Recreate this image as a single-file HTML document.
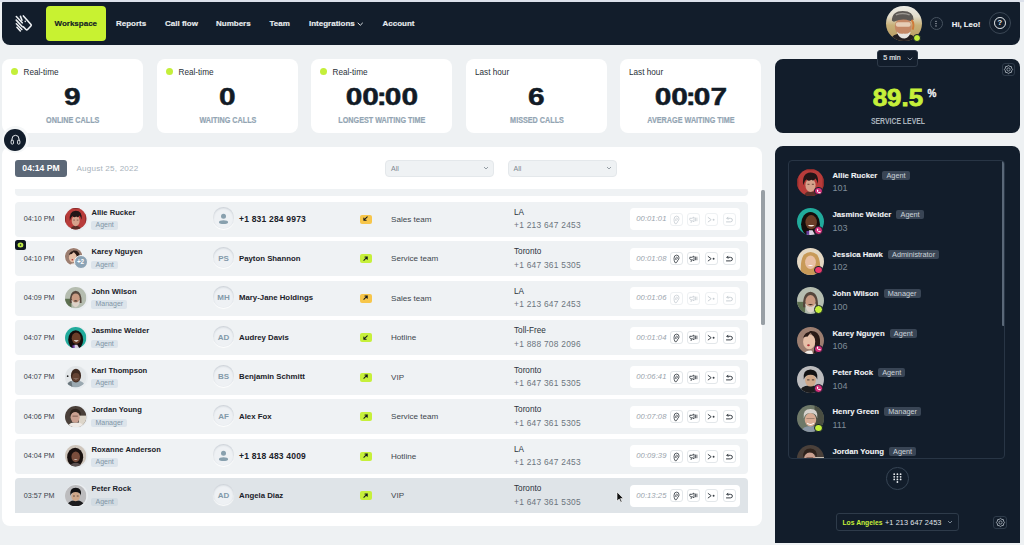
<!DOCTYPE html><html><head><meta charset="utf-8"><style>
*{box-sizing:border-box;margin:0;padding:0}
html,body{width:1024px;height:545px;overflow:hidden;background:#eef1f3;font-family:"Liberation Sans",sans-serif;position:relative}
.a{position:absolute}
.nav{color:#e8ecef;font-weight:bold;font-size:8px;top:19.3px;line-height:10px;white-space:nowrap;-webkit-text-stroke:.15px currentColor}
.card{position:absolute;top:59px;height:74px;background:#fff;border-radius:8px}
.card .lbl{position:absolute;font-size:8.2px;color:#2a3138;line-height:10px}
.dot{position:absolute;width:7px;height:7px;border-radius:50%;background:#c4ef3a}
.big{position:absolute;left:0;right:0;top:83px;text-align:center;font-weight:bold;font-size:23px;line-height:26px;color:#121b26;}
.big span{display:inline-block;transform:scaleX(1.3);-webkit-text-stroke:0.45px #121b26}
.big i{font-style:normal;display:inline-block;margin:0 -1.6px}
.cap{position:absolute;left:0;right:0;top:115px;text-align:center;font-weight:bold;font-size:8.6px;line-height:10px;color:#93a5b3;}
.cap span{display:inline-block;transform:scaleX(0.84);-webkit-text-stroke:.2px #93a5b3}
.row{position:absolute;left:15px;width:733px;height:35px;background:#eff2f4;border-radius:4px}
.t{position:absolute;font-size:7.8px;color:#3a424a;line-height:10px;white-space:nowrap}
.nm{position:absolute;font-weight:bold;font-size:7.6px;color:#1a2128;line-height:10px;white-space:nowrap}
.role{position:absolute;height:8.6px;background:#dce4eb;color:#8196a6;font-size:7px;line-height:8.6px;padding:0 4.2px;border-radius:2px;white-space:nowrap}
.cc{position:absolute;width:21.5px;height:21.5px;border-radius:50%;background:#eef1f4;box-shadow:inset 0 1px 2px rgba(40,60,80,.2), 0 1px 1px rgba(255,255,255,.9);color:#8299a9;font-size:8px;font-weight:bold;text-align:center;line-height:21.5px}
.acts{position:absolute;width:110px;height:22px;background:#fff;border-radius:4px}
.btn{position:absolute;top:4.5px;width:13px;height:13px;border:1px solid #e6eaed;border-radius:3px}
.dir{position:absolute;width:11.8px;height:9px;border-radius:2px;display:flex;align-items:center;justify-content:center}
.sname{position:absolute;font-weight:bold;font-size:7.75px;color:#f2f4f6;line-height:10px;white-space:nowrap;display:flex;align-items:center;-webkit-text-stroke:.1px #f2f4f6}
.srole{display:inline-block;position:relative;top:-.5px;margin-left:5px;height:9px;background:#394555;color:#ccd3d9;font-size:7.3px;line-height:9px;padding:0 4.2px;border-radius:2px;white-space:nowrap;font-weight:normal;-webkit-text-stroke:0}
.sext{position:absolute;font-size:9px;color:#7f8b97;line-height:10px}
</style></head><body>

<div class="a" style="left:0;top:0;width:1024px;height:1.6px;background:#dce1eb"></div>
<div class="a" style="left:2px;top:2px;width:1018px;height:43.2px;background:#121d2b;border-radius:1px 1px 8px 8px"></div>
<svg class="a" style="left:8px;top:8px" width="32" height="32" viewBox="0 0 545 545"><g stroke="#eef1f4" stroke-width="27" fill="none" stroke-linecap="round" stroke-linejoin="round">
<path d="M142 145 L242 252"/><path d="M140 207 L245 318"/><path d="M142 268 L236 366"/><path d="M152 328 L210 392"/><path d="M212 142 L238 208"/>
<path d="M262 135 L392 280 Q402 293 390 306 L334 365 Q320 378 306 366 L262 322"/></g><circle cx="294" cy="228" r="13" fill="#e6eaee"/></svg>
<div class="a" style="left:46px;top:6px;width:60px;height:35px;background:#c8f231;border-radius:4px"></div>
<div class="nav a" style="left:54.5px;color:#131c24">Workspace</div>
<div class="nav a" style="left:116px">Reports</div>
<div class="nav a" style="left:165px">Call flow</div>
<div class="nav a" style="left:216px">Numbers</div>
<div class="nav a" style="left:269.5px">Team</div>
<div class="nav a" style="left:309px">Integrations</div>
<div class="nav a" style="left:382.5px">Account</div>
<svg class="a" style="left:357.3px;top:21.6px" width="6.5" height="4.5" viewBox="0 0 6.5 4.5"><path d="M1 1.1 L3.25 3.3 L5.5 1.1" stroke="#e0e5e9" stroke-width="1" fill="none" stroke-linecap="round"/></svg>
<div class="a" style="left:886px;top:5.6px;width:35.5px;height:35.5px;border-radius:50%;overflow:hidden;background:linear-gradient(180deg,#ecebe6 0%,#e2dccb 30%,#c8b078 55%,#b89a60 100%)"><svg width="35.5" height="35.5" viewBox="0 0 36 36"><path d="M4 36 Q6 27 18 28 Q29 28 31 36Z" fill="#241f22"/><ellipse cx="17.5" cy="21" rx="8.5" ry="9.5" fill="#c48866"/><path d="M11 26 Q13 33 19 33 Q24 32 25 26 Q21 29 18 28 Q14 29 11 26Z" fill="#e8e4e0"/><rect x="10" y="16.5" width="15" height="4.5" rx="2" fill="#e6cdb6"/><path d="M6 15 Q6 5 17 5 Q28 5 28 14 Q26 16 24 15 Q17 12 8 16Z" fill="#5c5854"/><path d="M10 9 Q17 6 24 9" stroke="#9a9690" stroke-width="1.5" fill="none"/><path d="M26 14 Q29 18 27 24" stroke="#d07a3a" stroke-width="2" fill="none"/></svg></div>
<div class="a" style="left:912.5px;top:33.5px;width:8.5px;height:8.5px;border-radius:50%;background:#c4ef3a;border:1px solid #121d2b"></div>
<div class="a" style="left:929.8px;top:17.1px;width:13.2px;height:13.2px;border-radius:50%;border:1px solid #46525f"></div>
<svg class="a" style="left:935.4px;top:20px" width="2" height="7.5"><circle cx="1" cy="1.3" r=".65" fill="#c8ced4"/><circle cx="1" cy="3.6" r=".65" fill="#c8ced4"/><circle cx="1" cy="5.9" r=".65" fill="#c8ced4"/></svg>
<div class="nav a" style="left:951.8px;top:19.5px;color:#f0f2f4;font-size:7.75px">Hi, Leo!</div>
<div class="a" style="left:988.9px;top:12.1px;width:22px;height:22px;border-radius:50%;border:1.2px solid #3a4654"></div>
<div class="a" style="left:994px;top:17.2px;width:11.8px;height:11.8px;border-radius:50%;border:1.1px solid #e8ecef;color:#e8ecef;font-size:7.6px;font-weight:bold;line-height:9.8px;text-align:center">?</div>
<div class="card" style="left:2px;width:141px">
<div class="dot" style="left:9.4px;top:9.2px"></div><div class="lbl" style="left:21.5px;top:8.8px">Real-time</div>
<div class="big" style="top:25.3px"><span>9</span></div><div class="cap" style="top:55.7px"><span>ONLINE CALLS</span></div></div>
<div class="card" style="left:157px;width:141px">
<div class="dot" style="left:9.4px;top:9.2px"></div><div class="lbl" style="left:21.5px;top:8.8px">Real-time</div>
<div class="big" style="top:25.3px"><span>0</span></div><div class="cap" style="top:55.7px"><span>WAITING CALLS</span></div></div>
<div class="card" style="left:311px;width:141px">
<div class="dot" style="left:9.4px;top:9.2px"></div><div class="lbl" style="left:21.5px;top:8.8px">Real-time</div>
<div class="big" style="top:25.3px"><span>00<i>:</i>00</span></div><div class="cap" style="top:55.7px"><span>LONGEST WAITING TIME</span></div></div>
<div class="card" style="left:466px;width:141px">
<div class="lbl" style="left:9px;top:8.8px">Last hour</div>
<div class="big" style="top:25.3px"><span>6</span></div><div class="cap" style="top:55.7px"><span>MISSED CALLS</span></div></div>
<div class="card" style="left:620px;width:141px">
<div class="lbl" style="left:9px;top:8.8px">Last hour</div>
<div class="big" style="top:25.3px"><span>00<i>:</i>07</span></div><div class="cap" style="top:55.7px"><span>AVERAGE WAITING TIME</span></div></div>
<div class="a" style="left:775px;top:59px;width:245px;height:74px;background:#121d2b;border-radius:8px"></div>
<div class="a" style="left:876.9px;top:50.3px;width:41px;height:16.6px;background:#121d2b;border:1px solid #2d3948;border-radius:3px"></div>
<div class="a" style="left:883.3px;top:54.2px;font-size:7.1px;color:#e4e8ec;line-height:9px;-webkit-text-stroke:.15px #e4e8ec">5 min</div>
<svg class="a" style="left:906.5px;top:57px" width="6" height="4" viewBox="0 0 6 4"><path d="M1 1 L3 3 L5 1" stroke="#8793a0" stroke-width=".9" fill="none" stroke-linecap="round"/></svg>
<div class="a" style="left:1002px;top:63px;width:13px;height:13px;border:1px solid #2d3948;border-radius:3px"></div>
<svg class="a" style="left:1002.1px;top:63.2px" width="13" height="13" viewBox="0 0 13 13"><path d="M10.60 6.50 L9.64 7.80 L9.40 9.40 L7.80 9.64 L6.50 10.60 L5.20 9.64 L3.60 9.40 L3.36 7.80 L2.40 6.50 L3.36 5.20 L3.60 3.60 L5.20 3.36 L6.50 2.40 L7.80 3.36 L9.40 3.60 L9.64 5.20Z" stroke="#aab3bc" stroke-width=".9" fill="none" stroke-linejoin="round"/><circle cx="6.5" cy="6.5" r="1.6" stroke="#aab3bc" stroke-width=".8" fill="none"/></svg>
<div class="a" style="left:860px;top:84px;width:75px;text-align:center;font-weight:bold;font-size:23.5px;line-height:28px;color:#c6f03a"><span style="display:inline-block;transform:scaleX(1.1);-webkit-text-stroke:0.8px #c6f03a">89.5</span></div>
<div class="a" style="left:927.5px;top:87.5px;font-weight:bold;font-size:10px;line-height:12px;color:#f0f2f4;-webkit-text-stroke:.3px #f0f2f4">%</div>
<div class="a" style="left:860px;top:115.5px;width:75px;text-align:center;font-weight:bold;font-size:8.4px;line-height:10px;color:#aab4be"><span style="display:inline-block;transform:scaleX(0.82)">SERVICE LEVEL</span></div>
<div class="a" style="left:1.7px;top:146.6px;width:760.3px;height:379.6px;background:#fff;border-radius:8px"></div>
<div class="a" style="left:15px;top:160px;width:52px;height:17px;background:#5c6877;border-radius:3px;color:#fff;font-weight:bold;font-size:8.6px;line-height:17px;text-align:center">04:14 PM</div>
<div class="a" style="left:76.5px;top:164px;font-size:8.1px;color:#a8b2bb;line-height:10px;letter-spacing:.2px">August 25, 2022</div>
<div class="a" style="left:385px;top:160px;width:109px;height:17px;background:#eff2f4;border:1px solid #e4e8eb;border-radius:4px"></div>
<div class="a" style="left:391px;top:164px;font-size:7px;color:#7d8790;line-height:9px">All</div>
<svg class="a" style="left:483px;top:166px" width="6" height="4" viewBox="0 0 6 4"><path d="M1 1 L3 3 L5 1" stroke="#8a949c" stroke-width=".9" fill="none"/></svg>
<div class="a" style="left:507.5px;top:160px;width:109px;height:17px;background:#eff2f4;border:1px solid #e4e8eb;border-radius:4px"></div>
<div class="a" style="left:513.5px;top:164px;font-size:7px;color:#7d8790;line-height:9px">All</div>
<svg class="a" style="left:605.5px;top:166px" width="6" height="4" viewBox="0 0 6 4"><path d="M1 1 L3 3 L5 1" stroke="#8a949c" stroke-width=".9" fill="none"/></svg>
<div class="a" style="left:761.3px;top:190.3px;width:3.7px;height:135px;background:#989fa5;border-radius:1.5px"></div>
<div class="a" style="left:15px;top:189px;width:733px;height:7px;background:#eff2f4;border-radius:0 0 4px 4px"></div>
<div class="row" style="top:201.5px;background:#eff2f4;border-radius:4px"></div>
<div class="t" style="left:23.7px;top:214.0px;font-size:7.2px">04:10 PM</div>
<div class="a" style="left:64.5px;top:207.5px;width:23px;height:23px;border-radius:50%;background:#e9edf0;padding:0.8px"><svg width="21.4" height="21.4" viewBox="0 0 40 40" style="display:block"><defs><clipPath id="cr0"><circle cx="20" cy="20" r="20"/></clipPath></defs><g clip-path="url(#cr0)"><rect width="40" height="40" fill="#b83c3a"/><path d="M0 0 H40 V40 H0Z" fill="none" stroke="#8a2a2a" stroke-width="4"/><path d="M10 40 Q12 33 20 33 Q28 33 30 40Z" fill="#5a2e28"/><ellipse cx="20" cy="24" rx="7.5" ry="10" fill="#d6a28c"/><path d="M9 24 Q7 6 20 5 Q33 5 31 22 Q29 15 27 14 Q25 19 21 16 Q17 19 14 15 Q11 17 9 24Z" fill="#231617"/><rect x="15.5" y="22" width="3" height="1.1" fill="#4a2a22"/><rect x="22" y="22" width="3" height="1.1" fill="#4a2a22"/></g></svg></div>
<div class="nm" style="left:91.5px;top:207.5px">Allie Rucker</div>
<div class="role" style="left:91.3px;top:221.0px;">Agent</div>
<div class="cc" style="left:212.8px;top:207.0px;display:flex;align-items:center;justify-content:center"><svg width="11" height="11" viewBox="0 0 11 11" style="display:block;margin-top:1.6px"><circle cx="5.5" cy="3.3" r="2.5" fill="#88a0ae"/><ellipse cx="5.5" cy="9.2" rx="4.5" ry="1.9" fill="#88a0ae"/></svg></div>
<div class="nm" style="left:239px;top:214.0px;font-size:8.5px;letter-spacing:0.2px">+1 831 284 9973</div>
<div class="dir" style="left:360px;top:214.5px;background:#f7c64a"><svg width="11" height="10" viewBox="0 0 12 11" style="display:block"><path d="M7.9 3.1 L4.2 6.8 M4.2 4.3 V6.8 H6.7" stroke="#161a1e" stroke-width="1.15" fill="none" stroke-linecap="round" stroke-linejoin="round"/></svg></div>
<div class="t" style="left:391px;top:214.5px;color:#3e464e;font-size:8.1px">Sales team</div>
<div class="t" style="left:514px;top:207.5px;color:#2c343c;font-size:8.2px">LA</div>
<div class="t" style="left:514px;top:220.0px;color:#6c757e;font-size:8.4px;letter-spacing:.25px">+1 213 647 2453</div>
<div class="acts" style="left:629.8px;top:208.0px">
<div class="t" style="left:6.5px;top:6px;font-style:italic;color:#9aa4ac;font-size:7.65px;letter-spacing:.05px">00:01:01</div>
<div class="btn" style="left:40.0px;border-color:#eef1f3"><svg class="a" style="left:-1px;top:-1px" width="13" height="13" viewBox="0 0 13 13"><path d="M4.9 10.4 Q4 8.8 4 6.4 Q4 3.1 6.6 3.1 Q9 3.1 9 5.8 Q9 7.2 8.1 8 Q7.2 8.8 7 10 Q6.6 11 5.6 10.8" stroke="#c9cfd4" stroke-width=".85" fill="none" stroke-linecap="round"/><path d="M5.6 7.5 Q5.4 5.1 6.7 5.1 Q7.6 5.1 7.4 6.3 Q7.3 7 6.7 7.3" stroke="#c9cfd4" stroke-width=".75" fill="none" stroke-linecap="round"/></svg></div>
<div class="btn" style="left:57.6px;border-color:#eef1f3"><svg class="a" style="left:-1px;top:-1px" width="13" height="13" viewBox="0 0 13 13"><path d="M3 5.3 H5 L7 4 V8.8 L5 7.6 H4.5 L4.1 9.6 M3.4 7.6 Q2.7 7.5 2.7 6.5 Q2.7 5.3 3 5.3" stroke="#c9cfd4" stroke-width=".85" fill="none" stroke-linejoin="round" stroke-linecap="round"/><path d="M8.5 4.6 V8.2 M9.9 4.6 V8.2" stroke="#c9cfd4" stroke-width=".8"/></svg></div>
<div class="btn" style="left:75.2px;border-color:#eef1f3"><svg class="a" style="left:-1px;top:-1px" width="13" height="13" viewBox="0 0 13 13"><path d="M3.2 4.5 L6.2 6.7 L3.2 8.9" stroke="#c9cfd4" stroke-width=".95" fill="none" stroke-linecap="round" stroke-linejoin="round"/><circle cx="8.6" cy="6.7" r=".95" fill="#c9cfd4"/></svg></div>
<div class="btn" style="left:92.80000000000001px;border-color:#eef1f3"><svg class="a" style="left:-1px;top:-1px" width="13" height="13" viewBox="0 0 13 13"><path d="M5 4.2 L3.9 5.3 L5 6.4 M4 5.3 H7.4 Q9.4 5.3 9.4 7.1 Q9.4 8.9 7.4 8.9 H3.5" stroke="#c9cfd4" stroke-width="1" fill="none" stroke-linecap="round" stroke-linejoin="round"/></svg></div>
</div>
<div class="row" style="top:241.0px;background:#eff2f4;border-radius:4px"></div>
<div class="t" style="left:23.7px;top:253.5px;font-size:7.2px">04:10 PM</div>
<div class="a" style="left:64.4px;top:247.2px;width:18.8px;height:18.8px;border-radius:50%;background:#f4f6f8;padding:0.7px"><svg width="17.4" height="17.4" viewBox="0 0 40 40" style="display:block"><defs><clipPath id="cr1"><circle cx="20" cy="20" r="20"/></clipPath></defs><g clip-path="url(#cr1)"><rect width="40" height="40" fill="#9c7e70"/><path d="M18 6 Q32 4 34 18 Q35 30 30 40 L24 40 Q28 26 26 16Z" fill="#2a1a16"/><ellipse cx="18" cy="22" rx="9" ry="11" fill="#e6c0a8"/><path d="M9 16 Q12 6 22 7 Q18 10 16 14 Q12 14 9 16Z" fill="#2a1a16"/><ellipse cx="17" cy="27" rx="2" ry="1.5" fill="#b03038"/><path d="M10 40 Q14 34 22 35 L24 40Z" fill="#f0ebe6"/></g></svg></div>
<div class="a" style="left:73.5px;top:255.2px;width:14px;height:14px;border-radius:50%;background:#8ba3b5;border:1px solid #f2f5f7;color:#fff;font-size:6.3px;font-weight:bold;line-height:12px;text-align:center">+2</div>
<div class="nm" style="left:91.5px;top:247.0px">Karey Nguyen</div>
<div class="role" style="left:91.3px;top:260.5px;">Agent</div>
<div class="cc" style="left:212.8px;top:246.5px;line-height:23px">PS</div>
<div class="nm" style="left:239px;top:253.5px;font-size:7.8px;letter-spacing:0px">Payton Shannon</div>
<div class="dir" style="left:360px;top:254.0px;background:#c6f03a"><svg width="11" height="10" viewBox="0 0 12 11" style="display:block"><path d="M4.2 6.9 L7.9 3.2 M5.4 3.2 H7.9 V5.7" stroke="#161a1e" stroke-width="1.15" fill="none" stroke-linecap="round" stroke-linejoin="round"/></svg></div>
<div class="t" style="left:391px;top:254.0px;color:#3e464e;font-size:8.1px">Service team</div>
<div class="t" style="left:514px;top:247.0px;color:#2c343c;font-size:8.2px">Toronto</div>
<div class="t" style="left:514px;top:259.5px;color:#6c757e;font-size:8.4px;letter-spacing:.25px">+1 647 361 5305</div>
<div class="acts" style="left:629.8px;top:247.5px">
<div class="t" style="left:6.5px;top:6px;font-style:italic;color:#9aa4ac;font-size:7.65px;letter-spacing:.05px">00:01:08</div>
<div class="btn" style="left:40.0px;border-color:#e3e7ea"><svg class="a" style="left:-1px;top:-1px" width="13" height="13" viewBox="0 0 13 13"><path d="M4.9 10.4 Q4 8.8 4 6.4 Q4 3.1 6.6 3.1 Q9 3.1 9 5.8 Q9 7.2 8.1 8 Q7.2 8.8 7 10 Q6.6 11 5.6 10.8" stroke="#383f46" stroke-width=".85" fill="none" stroke-linecap="round"/><path d="M5.6 7.5 Q5.4 5.1 6.7 5.1 Q7.6 5.1 7.4 6.3 Q7.3 7 6.7 7.3" stroke="#383f46" stroke-width=".75" fill="none" stroke-linecap="round"/></svg></div>
<div class="btn" style="left:57.6px;border-color:#e3e7ea"><svg class="a" style="left:-1px;top:-1px" width="13" height="13" viewBox="0 0 13 13"><path d="M3 5.3 H5 L7 4 V8.8 L5 7.6 H4.5 L4.1 9.6 M3.4 7.6 Q2.7 7.5 2.7 6.5 Q2.7 5.3 3 5.3" stroke="#383f46" stroke-width=".85" fill="none" stroke-linejoin="round" stroke-linecap="round"/><path d="M8.5 4.6 V8.2 M9.9 4.6 V8.2" stroke="#383f46" stroke-width=".8"/></svg></div>
<div class="btn" style="left:75.2px;border-color:#e3e7ea"><svg class="a" style="left:-1px;top:-1px" width="13" height="13" viewBox="0 0 13 13"><path d="M3.2 4.5 L6.2 6.7 L3.2 8.9" stroke="#383f46" stroke-width=".95" fill="none" stroke-linecap="round" stroke-linejoin="round"/><circle cx="8.6" cy="6.7" r=".95" fill="#383f46"/></svg></div>
<div class="btn" style="left:92.80000000000001px;border-color:#e3e7ea"><svg class="a" style="left:-1px;top:-1px" width="13" height="13" viewBox="0 0 13 13"><path d="M5 4.2 L3.9 5.3 L5 6.4 M4 5.3 H7.4 Q9.4 5.3 9.4 7.1 Q9.4 8.9 7.4 8.9 H3.5" stroke="#383f46" stroke-width="1" fill="none" stroke-linecap="round" stroke-linejoin="round"/></svg></div>
</div>
<div class="row" style="top:280.5px;background:#eff2f4;border-radius:4px"></div>
<div class="t" style="left:23.7px;top:293.0px;font-size:7.2px">04:09 PM</div>
<div class="a" style="left:64.5px;top:286.5px;width:23px;height:23px;border-radius:50%;background:#e9edf0;padding:0.8px"><svg width="21.4" height="21.4" viewBox="0 0 40 40" style="display:block"><defs><clipPath id="cr2"><circle cx="20" cy="20" r="20"/></clipPath></defs><g clip-path="url(#cr2)"><rect width="40" height="40" fill="#b5bdb0"/><rect y="22" width="12" height="18" fill="#5d7050"/><path d="M9 30 Q8 8 20 7 Q32 8 31 30 L27 30 Q28 14 20 13 Q12 14 13 30Z" fill="#54463c"/><ellipse cx="20" cy="21" rx="7.5" ry="9" fill="#c89a82"/><path d="M12 24 Q13 37 20 38 Q27 37 28 24 Q24 30 20 29 Q16 30 12 24Z" fill="#dcd2c8"/><path d="M16 26 Q20 24 24 26 Q20 28 16 26Z" fill="#3a2a24"/></g></svg></div>
<div class="nm" style="left:91.5px;top:286.5px">John Wilson</div>
<div class="role" style="left:91.3px;top:300.0px;">Manager</div>
<div class="cc" style="left:212.8px;top:286.0px;line-height:23px">MH</div>
<div class="nm" style="left:239px;top:293.0px;font-size:7.8px;letter-spacing:0px">Mary-Jane Holdings</div>
<div class="dir" style="left:360px;top:293.5px;background:#f7c64a"><svg width="11" height="10" viewBox="0 0 12 11" style="display:block"><path d="M4.2 6.9 L7.9 3.2 M5.4 3.2 H7.9 V5.7" stroke="#161a1e" stroke-width="1.15" fill="none" stroke-linecap="round" stroke-linejoin="round"/></svg></div>
<div class="t" style="left:391px;top:293.5px;color:#3e464e;font-size:8.1px">Sales team</div>
<div class="t" style="left:514px;top:286.5px;color:#2c343c;font-size:8.2px">LA</div>
<div class="t" style="left:514px;top:299.0px;color:#6c757e;font-size:8.4px;letter-spacing:.25px">+1 213 647 2453</div>
<div class="acts" style="left:629.8px;top:287.0px">
<div class="t" style="left:6.5px;top:6px;font-style:italic;color:#9aa4ac;font-size:7.65px;letter-spacing:.05px">00:01:06</div>
<div class="btn" style="left:40.0px;border-color:#eef1f3"><svg class="a" style="left:-1px;top:-1px" width="13" height="13" viewBox="0 0 13 13"><path d="M4.9 10.4 Q4 8.8 4 6.4 Q4 3.1 6.6 3.1 Q9 3.1 9 5.8 Q9 7.2 8.1 8 Q7.2 8.8 7 10 Q6.6 11 5.6 10.8" stroke="#c9cfd4" stroke-width=".85" fill="none" stroke-linecap="round"/><path d="M5.6 7.5 Q5.4 5.1 6.7 5.1 Q7.6 5.1 7.4 6.3 Q7.3 7 6.7 7.3" stroke="#c9cfd4" stroke-width=".75" fill="none" stroke-linecap="round"/></svg></div>
<div class="btn" style="left:57.6px;border-color:#eef1f3"><svg class="a" style="left:-1px;top:-1px" width="13" height="13" viewBox="0 0 13 13"><path d="M3 5.3 H5 L7 4 V8.8 L5 7.6 H4.5 L4.1 9.6 M3.4 7.6 Q2.7 7.5 2.7 6.5 Q2.7 5.3 3 5.3" stroke="#c9cfd4" stroke-width=".85" fill="none" stroke-linejoin="round" stroke-linecap="round"/><path d="M8.5 4.6 V8.2 M9.9 4.6 V8.2" stroke="#c9cfd4" stroke-width=".8"/></svg></div>
<div class="btn" style="left:75.2px;border-color:#eef1f3"><svg class="a" style="left:-1px;top:-1px" width="13" height="13" viewBox="0 0 13 13"><path d="M3.2 4.5 L6.2 6.7 L3.2 8.9" stroke="#c9cfd4" stroke-width=".95" fill="none" stroke-linecap="round" stroke-linejoin="round"/><circle cx="8.6" cy="6.7" r=".95" fill="#c9cfd4"/></svg></div>
<div class="btn" style="left:92.80000000000001px;border-color:#eef1f3"><svg class="a" style="left:-1px;top:-1px" width="13" height="13" viewBox="0 0 13 13"><path d="M5 4.2 L3.9 5.3 L5 6.4 M4 5.3 H7.4 Q9.4 5.3 9.4 7.1 Q9.4 8.9 7.4 8.9 H3.5" stroke="#c9cfd4" stroke-width="1" fill="none" stroke-linecap="round" stroke-linejoin="round"/></svg></div>
</div>
<div class="row" style="top:320.0px;background:#eff2f4;border-radius:4px"></div>
<div class="t" style="left:23.7px;top:332.5px;font-size:7.2px">04:07 PM</div>
<div class="a" style="left:64.5px;top:326.0px;width:23px;height:23px;border-radius:50%;background:#e9edf0;padding:0.8px"><svg width="21.4" height="21.4" viewBox="0 0 40 40" style="display:block"><defs><clipPath id="cr3"><circle cx="20" cy="20" r="20"/></clipPath></defs><g clip-path="url(#cr3)"><rect width="40" height="40" fill="#21ab9c"/><ellipse cx="20" cy="24" rx="14" ry="18" fill="#140d0c"/><ellipse cx="21" cy="21" rx="8.5" ry="10.5" fill="#6a3e28"/><path d="M16 25 Q21 30 26 25Z" fill="#f2eee8"/><path d="M14 40 L18 33 L23 33 L27 40Z" fill="#d8d0e0"/><rect x="14" y="34" width="4" height="6" fill="#6a3ca0"/></g></svg></div>
<div class="nm" style="left:91.5px;top:326.0px">Jasmine Welder</div>
<div class="role" style="left:91.3px;top:339.5px;">Agent</div>
<div class="cc" style="left:212.8px;top:325.5px;line-height:23px">AD</div>
<div class="nm" style="left:239px;top:332.5px;font-size:7.8px;letter-spacing:0px">Audrey Davis</div>
<div class="dir" style="left:360px;top:333.0px;background:#c6f03a"><svg width="11" height="10" viewBox="0 0 12 11" style="display:block"><path d="M7.9 3.1 L4.2 6.8 M4.2 4.3 V6.8 H6.7" stroke="#161a1e" stroke-width="1.15" fill="none" stroke-linecap="round" stroke-linejoin="round"/></svg></div>
<div class="t" style="left:391px;top:333.0px;color:#3e464e;font-size:8.1px">Hotline</div>
<div class="t" style="left:514px;top:326.0px;color:#2c343c;font-size:8.2px">Toll-Free</div>
<div class="t" style="left:514px;top:338.5px;color:#6c757e;font-size:8.4px;letter-spacing:.25px">+1 888 708 2096</div>
<div class="acts" style="left:629.8px;top:326.5px">
<div class="t" style="left:6.5px;top:6px;font-style:italic;color:#9aa4ac;font-size:7.65px;letter-spacing:.05px">00:01:04</div>
<div class="btn" style="left:40.0px;border-color:#e3e7ea"><svg class="a" style="left:-1px;top:-1px" width="13" height="13" viewBox="0 0 13 13"><path d="M4.9 10.4 Q4 8.8 4 6.4 Q4 3.1 6.6 3.1 Q9 3.1 9 5.8 Q9 7.2 8.1 8 Q7.2 8.8 7 10 Q6.6 11 5.6 10.8" stroke="#383f46" stroke-width=".85" fill="none" stroke-linecap="round"/><path d="M5.6 7.5 Q5.4 5.1 6.7 5.1 Q7.6 5.1 7.4 6.3 Q7.3 7 6.7 7.3" stroke="#383f46" stroke-width=".75" fill="none" stroke-linecap="round"/></svg></div>
<div class="btn" style="left:57.6px;border-color:#e3e7ea"><svg class="a" style="left:-1px;top:-1px" width="13" height="13" viewBox="0 0 13 13"><path d="M3 5.3 H5 L7 4 V8.8 L5 7.6 H4.5 L4.1 9.6 M3.4 7.6 Q2.7 7.5 2.7 6.5 Q2.7 5.3 3 5.3" stroke="#383f46" stroke-width=".85" fill="none" stroke-linejoin="round" stroke-linecap="round"/><path d="M8.5 4.6 V8.2 M9.9 4.6 V8.2" stroke="#383f46" stroke-width=".8"/></svg></div>
<div class="btn" style="left:75.2px;border-color:#e3e7ea"><svg class="a" style="left:-1px;top:-1px" width="13" height="13" viewBox="0 0 13 13"><path d="M3.2 4.5 L6.2 6.7 L3.2 8.9" stroke="#383f46" stroke-width=".95" fill="none" stroke-linecap="round" stroke-linejoin="round"/><circle cx="8.6" cy="6.7" r=".95" fill="#383f46"/></svg></div>
<div class="btn" style="left:92.80000000000001px;border-color:#e3e7ea"><svg class="a" style="left:-1px;top:-1px" width="13" height="13" viewBox="0 0 13 13"><path d="M5 4.2 L3.9 5.3 L5 6.4 M4 5.3 H7.4 Q9.4 5.3 9.4 7.1 Q9.4 8.9 7.4 8.9 H3.5" stroke="#383f46" stroke-width="1" fill="none" stroke-linecap="round" stroke-linejoin="round"/></svg></div>
</div>
<div class="row" style="top:359.5px;background:#eff2f4;border-radius:4px"></div>
<div class="t" style="left:23.7px;top:372.0px;font-size:7.2px">04:07 PM</div>
<div class="a" style="left:64.5px;top:365.5px;width:23px;height:23px;border-radius:50%;background:#e9edf0;padding:0.8px"><svg width="21.4" height="21.4" viewBox="0 0 40 40" style="display:block"><defs><clipPath id="cr4"><circle cx="20" cy="20" r="20"/></clipPath></defs><g clip-path="url(#cr4)"><rect width="40" height="40" fill="#e2e6e8"/><path d="M2 40 Q4 26 20 28 Q36 26 38 40Z" fill="#9aa8b0"/><path d="M2 40 Q4 30 12 28 L14 40Z" fill="#6a767c"/><ellipse cx="20.5" cy="18" rx="9.5" ry="13" fill="#3e2a20"/><ellipse cx="20.5" cy="21" rx="7" ry="8" fill="#654434"/><path d="M15 23 Q20.5 27 26 23 Q20.5 25 15 23Z" fill="#e8e0d8"/><circle cx="5" cy="19" r="1.6" fill="#222"/></g></svg></div>
<div class="nm" style="left:91.5px;top:365.5px">Karl Thompson</div>
<div class="role" style="left:91.3px;top:379.0px;">Agent</div>
<div class="cc" style="left:212.8px;top:365.0px;line-height:23px">BS</div>
<div class="nm" style="left:239px;top:372.0px;font-size:7.8px;letter-spacing:0px">Benjamin Schmitt</div>
<div class="dir" style="left:360px;top:372.5px;background:#c6f03a"><svg width="11" height="10" viewBox="0 0 12 11" style="display:block"><path d="M4.2 6.9 L7.9 3.2 M5.4 3.2 H7.9 V5.7" stroke="#161a1e" stroke-width="1.15" fill="none" stroke-linecap="round" stroke-linejoin="round"/></svg></div>
<div class="t" style="left:391px;top:372.5px;color:#3e464e;font-size:8.1px">VIP</div>
<div class="t" style="left:514px;top:365.5px;color:#2c343c;font-size:8.2px">Toronto</div>
<div class="t" style="left:514px;top:378.0px;color:#6c757e;font-size:8.4px;letter-spacing:.25px">+1 647 361 5305</div>
<div class="acts" style="left:629.8px;top:366.0px">
<div class="t" style="left:6.5px;top:6px;font-style:italic;color:#9aa4ac;font-size:7.65px;letter-spacing:.05px">00:06:41</div>
<div class="btn" style="left:40.0px;border-color:#e3e7ea"><svg class="a" style="left:-1px;top:-1px" width="13" height="13" viewBox="0 0 13 13"><path d="M4.9 10.4 Q4 8.8 4 6.4 Q4 3.1 6.6 3.1 Q9 3.1 9 5.8 Q9 7.2 8.1 8 Q7.2 8.8 7 10 Q6.6 11 5.6 10.8" stroke="#383f46" stroke-width=".85" fill="none" stroke-linecap="round"/><path d="M5.6 7.5 Q5.4 5.1 6.7 5.1 Q7.6 5.1 7.4 6.3 Q7.3 7 6.7 7.3" stroke="#383f46" stroke-width=".75" fill="none" stroke-linecap="round"/></svg></div>
<div class="btn" style="left:57.6px;border-color:#e3e7ea"><svg class="a" style="left:-1px;top:-1px" width="13" height="13" viewBox="0 0 13 13"><path d="M3 5.3 H5 L7 4 V8.8 L5 7.6 H4.5 L4.1 9.6 M3.4 7.6 Q2.7 7.5 2.7 6.5 Q2.7 5.3 3 5.3" stroke="#383f46" stroke-width=".85" fill="none" stroke-linejoin="round" stroke-linecap="round"/><path d="M8.5 4.6 V8.2 M9.9 4.6 V8.2" stroke="#383f46" stroke-width=".8"/></svg></div>
<div class="btn" style="left:75.2px;border-color:#e3e7ea"><svg class="a" style="left:-1px;top:-1px" width="13" height="13" viewBox="0 0 13 13"><path d="M3.2 4.5 L6.2 6.7 L3.2 8.9" stroke="#383f46" stroke-width=".95" fill="none" stroke-linecap="round" stroke-linejoin="round"/><circle cx="8.6" cy="6.7" r=".95" fill="#383f46"/></svg></div>
<div class="btn" style="left:92.80000000000001px;border-color:#e3e7ea"><svg class="a" style="left:-1px;top:-1px" width="13" height="13" viewBox="0 0 13 13"><path d="M5 4.2 L3.9 5.3 L5 6.4 M4 5.3 H7.4 Q9.4 5.3 9.4 7.1 Q9.4 8.9 7.4 8.9 H3.5" stroke="#383f46" stroke-width="1" fill="none" stroke-linecap="round" stroke-linejoin="round"/></svg></div>
</div>
<div class="row" style="top:399.0px;background:#eff2f4;border-radius:4px"></div>
<div class="t" style="left:23.7px;top:411.5px;font-size:7.2px">04:06 PM</div>
<div class="a" style="left:64.5px;top:405.0px;width:23px;height:23px;border-radius:50%;background:#e9edf0;padding:0.8px"><svg width="21.4" height="21.4" viewBox="0 0 40 40" style="display:block"><defs><clipPath id="cr5"><circle cx="20" cy="20" r="20"/></clipPath></defs><g clip-path="url(#cr5)"><rect width="40" height="40" fill="#4a403a"/><rect x="26" y="18" width="14" height="22" fill="#ddd6ca"/><path d="M4 40 Q8 30 20 31 Q32 30 36 40Z" fill="#eeeae6"/><ellipse cx="19" cy="21" rx="8.5" ry="10.5" fill="#caa090"/><path d="M9 19 Q8 5 20 5 Q31 6 29 18 Q26 11 19 11 Q13 11 9 19Z" fill="#2e221c"/><path d="M14 19 H24" stroke="#5a3a30" stroke-width="1.2"/></g></svg></div>
<div class="nm" style="left:91.5px;top:405.0px">Jordan Young</div>
<div class="role" style="left:91.3px;top:418.5px;">Manager</div>
<div class="cc" style="left:212.8px;top:404.5px;line-height:23px">AF</div>
<div class="nm" style="left:239px;top:411.5px;font-size:7.8px;letter-spacing:0px">Alex Fox</div>
<div class="dir" style="left:360px;top:412.0px;background:#c6f03a"><svg width="11" height="10" viewBox="0 0 12 11" style="display:block"><path d="M4.2 6.9 L7.9 3.2 M5.4 3.2 H7.9 V5.7" stroke="#161a1e" stroke-width="1.15" fill="none" stroke-linecap="round" stroke-linejoin="round"/></svg></div>
<div class="t" style="left:391px;top:412.0px;color:#3e464e;font-size:8.1px">Service team</div>
<div class="t" style="left:514px;top:405.0px;color:#2c343c;font-size:8.2px">Toronto</div>
<div class="t" style="left:514px;top:417.5px;color:#6c757e;font-size:8.4px;letter-spacing:.25px">+1 647 361 5305</div>
<div class="acts" style="left:629.8px;top:405.5px">
<div class="t" style="left:6.5px;top:6px;font-style:italic;color:#9aa4ac;font-size:7.65px;letter-spacing:.05px">00:07:08</div>
<div class="btn" style="left:40.0px;border-color:#e3e7ea"><svg class="a" style="left:-1px;top:-1px" width="13" height="13" viewBox="0 0 13 13"><path d="M4.9 10.4 Q4 8.8 4 6.4 Q4 3.1 6.6 3.1 Q9 3.1 9 5.8 Q9 7.2 8.1 8 Q7.2 8.8 7 10 Q6.6 11 5.6 10.8" stroke="#383f46" stroke-width=".85" fill="none" stroke-linecap="round"/><path d="M5.6 7.5 Q5.4 5.1 6.7 5.1 Q7.6 5.1 7.4 6.3 Q7.3 7 6.7 7.3" stroke="#383f46" stroke-width=".75" fill="none" stroke-linecap="round"/></svg></div>
<div class="btn" style="left:57.6px;border-color:#e3e7ea"><svg class="a" style="left:-1px;top:-1px" width="13" height="13" viewBox="0 0 13 13"><path d="M3 5.3 H5 L7 4 V8.8 L5 7.6 H4.5 L4.1 9.6 M3.4 7.6 Q2.7 7.5 2.7 6.5 Q2.7 5.3 3 5.3" stroke="#383f46" stroke-width=".85" fill="none" stroke-linejoin="round" stroke-linecap="round"/><path d="M8.5 4.6 V8.2 M9.9 4.6 V8.2" stroke="#383f46" stroke-width=".8"/></svg></div>
<div class="btn" style="left:75.2px;border-color:#e3e7ea"><svg class="a" style="left:-1px;top:-1px" width="13" height="13" viewBox="0 0 13 13"><path d="M3.2 4.5 L6.2 6.7 L3.2 8.9" stroke="#383f46" stroke-width=".95" fill="none" stroke-linecap="round" stroke-linejoin="round"/><circle cx="8.6" cy="6.7" r=".95" fill="#383f46"/></svg></div>
<div class="btn" style="left:92.80000000000001px;border-color:#e3e7ea"><svg class="a" style="left:-1px;top:-1px" width="13" height="13" viewBox="0 0 13 13"><path d="M5 4.2 L3.9 5.3 L5 6.4 M4 5.3 H7.4 Q9.4 5.3 9.4 7.1 Q9.4 8.9 7.4 8.9 H3.5" stroke="#383f46" stroke-width="1" fill="none" stroke-linecap="round" stroke-linejoin="round"/></svg></div>
</div>
<div class="row" style="top:438.5px;background:#eff2f4;border-radius:4px"></div>
<div class="t" style="left:23.7px;top:451.0px;font-size:7.2px">04:04 PM</div>
<div class="a" style="left:64.5px;top:444.5px;width:23px;height:23px;border-radius:50%;background:#e9edf0;padding:0.8px"><svg width="21.4" height="21.4" viewBox="0 0 40 40" style="display:block"><defs><clipPath id="cr6"><circle cx="20" cy="20" r="20"/></clipPath></defs><g clip-path="url(#cr6)"><rect width="40" height="40" fill="#cfc6bc"/><ellipse cx="19" cy="23" rx="15" ry="18" fill="#1a1210"/><ellipse cx="20" cy="22" rx="8" ry="10" fill="#7a4e3c"/><path d="M16 26 Q20 29 24 26Z" fill="#e8ded6"/><path d="M8 40 Q12 33 20 33 Q28 33 32 40Z" fill="#5a5050"/></g></svg></div>
<div class="nm" style="left:91.5px;top:444.5px">Roxanne Anderson</div>
<div class="role" style="left:91.3px;top:458.0px;">Agent</div>
<div class="cc" style="left:212.8px;top:444.0px;display:flex;align-items:center;justify-content:center"><svg width="11" height="11" viewBox="0 0 11 11" style="display:block;margin-top:1.6px"><circle cx="5.5" cy="3.3" r="2.5" fill="#88a0ae"/><ellipse cx="5.5" cy="9.2" rx="4.5" ry="1.9" fill="#88a0ae"/></svg></div>
<div class="nm" style="left:239px;top:451.0px;font-size:8.5px;letter-spacing:0.2px">+1 818 483 4009</div>
<div class="dir" style="left:360px;top:451.5px;background:#c6f03a"><svg width="11" height="10" viewBox="0 0 12 11" style="display:block"><path d="M4.2 6.9 L7.9 3.2 M5.4 3.2 H7.9 V5.7" stroke="#161a1e" stroke-width="1.15" fill="none" stroke-linecap="round" stroke-linejoin="round"/></svg></div>
<div class="t" style="left:391px;top:451.5px;color:#3e464e;font-size:8.1px">Hotline</div>
<div class="t" style="left:514px;top:444.5px;color:#2c343c;font-size:8.2px">LA</div>
<div class="t" style="left:514px;top:457.0px;color:#6c757e;font-size:8.4px;letter-spacing:.25px">+1 213 647 2453</div>
<div class="acts" style="left:629.8px;top:445.0px">
<div class="t" style="left:6.5px;top:6px;font-style:italic;color:#9aa4ac;font-size:7.65px;letter-spacing:.05px">00:09:39</div>
<div class="btn" style="left:40.0px;border-color:#e3e7ea"><svg class="a" style="left:-1px;top:-1px" width="13" height="13" viewBox="0 0 13 13"><path d="M4.9 10.4 Q4 8.8 4 6.4 Q4 3.1 6.6 3.1 Q9 3.1 9 5.8 Q9 7.2 8.1 8 Q7.2 8.8 7 10 Q6.6 11 5.6 10.8" stroke="#383f46" stroke-width=".85" fill="none" stroke-linecap="round"/><path d="M5.6 7.5 Q5.4 5.1 6.7 5.1 Q7.6 5.1 7.4 6.3 Q7.3 7 6.7 7.3" stroke="#383f46" stroke-width=".75" fill="none" stroke-linecap="round"/></svg></div>
<div class="btn" style="left:57.6px;border-color:#e3e7ea"><svg class="a" style="left:-1px;top:-1px" width="13" height="13" viewBox="0 0 13 13"><path d="M3 5.3 H5 L7 4 V8.8 L5 7.6 H4.5 L4.1 9.6 M3.4 7.6 Q2.7 7.5 2.7 6.5 Q2.7 5.3 3 5.3" stroke="#383f46" stroke-width=".85" fill="none" stroke-linejoin="round" stroke-linecap="round"/><path d="M8.5 4.6 V8.2 M9.9 4.6 V8.2" stroke="#383f46" stroke-width=".8"/></svg></div>
<div class="btn" style="left:75.2px;border-color:#e3e7ea"><svg class="a" style="left:-1px;top:-1px" width="13" height="13" viewBox="0 0 13 13"><path d="M3.2 4.5 L6.2 6.7 L3.2 8.9" stroke="#383f46" stroke-width=".95" fill="none" stroke-linecap="round" stroke-linejoin="round"/><circle cx="8.6" cy="6.7" r=".95" fill="#383f46"/></svg></div>
<div class="btn" style="left:92.80000000000001px;border-color:#e3e7ea"><svg class="a" style="left:-1px;top:-1px" width="13" height="13" viewBox="0 0 13 13"><path d="M5 4.2 L3.9 5.3 L5 6.4 M4 5.3 H7.4 Q9.4 5.3 9.4 7.1 Q9.4 8.9 7.4 8.9 H3.5" stroke="#383f46" stroke-width="1" fill="none" stroke-linecap="round" stroke-linejoin="round"/></svg></div>
</div>
<div class="row" style="top:478.0px;background:#dfe4e8;border-radius:4px 4px 0 0"></div>
<div class="t" style="left:23.7px;top:490.5px;font-size:7.2px">03:57 PM</div>
<div class="a" style="left:64.5px;top:484.0px;width:23px;height:23px;border-radius:50%;background:#e9edf0;padding:0.8px"><svg width="21.4" height="21.4" viewBox="0 0 40 40" style="display:block"><defs><clipPath id="cr7"><circle cx="20" cy="20" r="20"/></clipPath></defs><g clip-path="url(#cr7)"><rect width="40" height="40" fill="#bcbcbe"/><path d="M3 40 Q6 28 20 29 Q34 28 37 40Z" fill="#1c1c1e"/><ellipse cx="20" cy="21" rx="8" ry="9.5" fill="#cfa88a"/><path d="M10 20 Q8 5 20 5 Q32 5 30 20 Q28 13 20 13 Q12 13 10 20Z" fill="#121214"/><rect x="15" y="20" width="3.5" height="1.2" fill="#2a2020"/><rect x="22" y="20" width="3.5" height="1.2" fill="#2a2020"/></g></svg></div>
<div class="nm" style="left:91.5px;top:484.0px">Peter Rock</div>
<div class="role" style="left:91.3px;top:497.5px;background:#d2dbe2">Agent</div>
<div class="cc" style="left:212.8px;top:483.5px;line-height:23px">AD</div>
<div class="nm" style="left:239px;top:490.5px;font-size:7.8px;letter-spacing:0px">Angela Diaz</div>
<div class="dir" style="left:360px;top:491.0px;background:#c6f03a"><svg width="11" height="10" viewBox="0 0 12 11" style="display:block"><path d="M4.2 6.9 L7.9 3.2 M5.4 3.2 H7.9 V5.7" stroke="#161a1e" stroke-width="1.15" fill="none" stroke-linecap="round" stroke-linejoin="round"/></svg></div>
<div class="t" style="left:391px;top:491.0px;color:#3e464e;font-size:8.1px">VIP</div>
<div class="t" style="left:514px;top:484.0px;color:#2c343c;font-size:8.2px">Toronto</div>
<div class="t" style="left:514px;top:496.5px;color:#6c757e;font-size:8.4px;letter-spacing:.25px">+1 647 361 5305</div>
<div class="acts" style="left:629.8px;top:484.5px">
<div class="t" style="left:6.5px;top:6px;font-style:italic;color:#9aa4ac;font-size:7.65px;letter-spacing:.05px">00:13:25</div>
<div class="btn" style="left:40.0px;border-color:#e3e7ea"><svg class="a" style="left:-1px;top:-1px" width="13" height="13" viewBox="0 0 13 13"><path d="M4.9 10.4 Q4 8.8 4 6.4 Q4 3.1 6.6 3.1 Q9 3.1 9 5.8 Q9 7.2 8.1 8 Q7.2 8.8 7 10 Q6.6 11 5.6 10.8" stroke="#383f46" stroke-width=".85" fill="none" stroke-linecap="round"/><path d="M5.6 7.5 Q5.4 5.1 6.7 5.1 Q7.6 5.1 7.4 6.3 Q7.3 7 6.7 7.3" stroke="#383f46" stroke-width=".75" fill="none" stroke-linecap="round"/></svg></div>
<div class="btn" style="left:57.6px;border-color:#e3e7ea"><svg class="a" style="left:-1px;top:-1px" width="13" height="13" viewBox="0 0 13 13"><path d="M3 5.3 H5 L7 4 V8.8 L5 7.6 H4.5 L4.1 9.6 M3.4 7.6 Q2.7 7.5 2.7 6.5 Q2.7 5.3 3 5.3" stroke="#383f46" stroke-width=".85" fill="none" stroke-linejoin="round" stroke-linecap="round"/><path d="M8.5 4.6 V8.2 M9.9 4.6 V8.2" stroke="#383f46" stroke-width=".8"/></svg></div>
<div class="btn" style="left:75.2px;border-color:#e3e7ea"><svg class="a" style="left:-1px;top:-1px" width="13" height="13" viewBox="0 0 13 13"><path d="M3.2 4.5 L6.2 6.7 L3.2 8.9" stroke="#383f46" stroke-width=".95" fill="none" stroke-linecap="round" stroke-linejoin="round"/><circle cx="8.6" cy="6.7" r=".95" fill="#383f46"/></svg></div>
<div class="btn" style="left:92.80000000000001px;border-color:#e3e7ea"><svg class="a" style="left:-1px;top:-1px" width="13" height="13" viewBox="0 0 13 13"><path d="M5 4.2 L3.9 5.3 L5 6.4 M4 5.3 H7.4 Q9.4 5.3 9.4 7.1 Q9.4 8.9 7.4 8.9 H3.5" stroke="#383f46" stroke-width="1" fill="none" stroke-linecap="round" stroke-linejoin="round"/></svg></div>
</div>
<svg class="a" style="left:616px;top:491px" width="8" height="12" viewBox="0 0 8 12"><path d="M1 1 L1 10 L3.2 8 L4.8 11.3 L6 10.8 L4.5 7.6 L7.3 7.4Z" fill="#111" stroke="#fff" stroke-width=".6"/></svg>
<div class="a" style="left:1.9px;top:126px;width:27px;height:27px;border-radius:50%;background:#f5f7f8"></div>
<div class="a" style="left:4.4px;top:128.5px;width:22px;height:22px;border-radius:50%;background:#121d2b"></div>
<svg class="a" style="left:8.9px;top:133px" width="13" height="13" viewBox="0 0 13 13"><path d="M2.9 8.2 V6.3 Q2.9 2.3 6.5 2.3 Q10.1 2.3 10.1 6.3 V8.2" stroke="#e8ecef" stroke-width="1" fill="none"/><rect x="2.1" y="7" width="2.4" height="4.2" rx="1.2" stroke="#e8ecef" stroke-width=".9" fill="none"/><rect x="8.5" y="7" width="2.4" height="4.2" rx="1.2" stroke="#e8ecef" stroke-width=".9" fill="none"/></svg>
<div class="a" style="left:15px;top:240.4px;width:11px;height:9.4px;background:#0e1622;border-radius:2.5px"></div>
<svg class="a" style="left:16px;top:241.2px" width="9" height="8" viewBox="0 0 9 8"><ellipse cx="4.5" cy="4" rx="2.9" ry="2.5" fill="#c2ec4a"/><circle cx="4.5" cy="4" r=".8" fill="#0e1622"/></svg>
<div class="a" style="left:775px;top:146.4px;width:245px;height:396.4px;background:#121d2b;border-radius:8px 8px 0 0"></div>
<div class="a" style="left:788px;top:159.6px;width:217px;height:299px;border:1px solid #283545;border-radius:4px;overflow:hidden">
<div class="a" style="left:8px;top:8.199999999999989px"><svg width="27" height="27" viewBox="0 0 40 40" style="display:block"><defs><clipPath id="cs0"><circle cx="20" cy="20" r="20"/></clipPath></defs><g clip-path="url(#cs0)"><rect width="40" height="40" fill="#b83c3a"/><path d="M0 0 H40 V40 H0Z" fill="none" stroke="#8a2a2a" stroke-width="4"/><path d="M10 40 Q12 33 20 33 Q28 33 30 40Z" fill="#5a2e28"/><ellipse cx="20" cy="24" rx="7.5" ry="10" fill="#d6a28c"/><path d="M9 24 Q7 6 20 5 Q33 5 31 22 Q29 15 27 14 Q25 19 21 16 Q17 19 14 15 Q11 17 9 24Z" fill="#231617"/><rect x="15.5" y="22" width="3" height="1.1" fill="#4a2a22"/><rect x="22" y="22" width="3" height="1.1" fill="#4a2a22"/></g></svg></div>
<div class="a" style="left:25.3px;top:26.29999999999999px;width:8.6px;height:8.6px;border-radius:50%;background:#d5307a;border:1px solid #121d2b"></div>
<svg class="a" style="left:27px;top:27.99999999999999px" width="5.2" height="5.2" viewBox="0 0 10 10"><path d="M2 1.5 L3.8 1.2 L4.6 3.4 L3.5 4.3 Q4.4 6 6 6.6 L6.8 5.5 L9 6.3 L8.7 8.2 Q5 8.6 3 6.5 Q1.2 4.4 2 1.5Z" fill="#fff"/></svg>
<div class="sname" style="left:43.5px;top:10.199999999999989px">Allie Rucker<span class="srole">Agent</span></div>
<div class="sext" style="left:43.5px;top:22.69999999999999px">101</div>
<div class="a" style="left:8px;top:47.64999999999998px"><svg width="27" height="27" viewBox="0 0 40 40" style="display:block"><defs><clipPath id="cs1"><circle cx="20" cy="20" r="20"/></clipPath></defs><g clip-path="url(#cs1)"><rect width="40" height="40" fill="#21ab9c"/><ellipse cx="20" cy="24" rx="14" ry="18" fill="#140d0c"/><ellipse cx="21" cy="21" rx="8.5" ry="10.5" fill="#6a3e28"/><path d="M16 25 Q21 30 26 25Z" fill="#f2eee8"/><path d="M14 40 L18 33 L23 33 L27 40Z" fill="#d8d0e0"/><rect x="14" y="34" width="4" height="6" fill="#6a3ca0"/></g></svg></div>
<div class="a" style="left:25.3px;top:65.74999999999997px;width:8.6px;height:8.6px;border-radius:50%;background:#d5307a;border:1px solid #121d2b"></div>
<svg class="a" style="left:27px;top:67.44999999999997px" width="5.2" height="5.2" viewBox="0 0 10 10"><path d="M2 1.5 L3.8 1.2 L4.6 3.4 L3.5 4.3 Q4.4 6 6 6.6 L6.8 5.5 L9 6.3 L8.7 8.2 Q5 8.6 3 6.5 Q1.2 4.4 2 1.5Z" fill="#fff"/></svg>
<div class="sname" style="left:43.5px;top:49.64999999999998px">Jasmine Welder<span class="srole">Agent</span></div>
<div class="sext" style="left:43.5px;top:62.14999999999998px">103</div>
<div class="a" style="left:8px;top:87.10000000000002px"><svg width="27" height="27" viewBox="0 0 40 40" style="display:block"><defs><clipPath id="cs2"><circle cx="20" cy="20" r="20"/></clipPath></defs><g clip-path="url(#cs2)"><rect width="40" height="40" fill="#e4d8c4"/><path d="M6 40 Q4 20 10 10 Q20 2 30 10 Q36 20 34 40Z" fill="#c89a58"/><ellipse cx="20" cy="21" rx="8" ry="10" fill="#e9c0a4"/><path d="M12 16 Q20 6 28 16 Q24 11 20 11 Q15 11 12 16Z" fill="#d8b070"/><path d="M16 25 Q20 28 24 25Z" fill="#fff"/></g></svg></div>
<div class="a" style="left:25.3px;top:105.20000000000002px;width:8.6px;height:8.6px;border-radius:50%;background:#ec3a6c;border:1px solid #121d2b"></div>
<div class="sname" style="left:43.5px;top:89.10000000000002px">Jessica Hawk<span class="srole">Administrator</span></div>
<div class="sext" style="left:43.5px;top:101.60000000000002px">102</div>
<div class="a" style="left:8px;top:126.55000000000001px"><svg width="27" height="27" viewBox="0 0 40 40" style="display:block"><defs><clipPath id="cs3"><circle cx="20" cy="20" r="20"/></clipPath></defs><g clip-path="url(#cs3)"><rect width="40" height="40" fill="#b5bdb0"/><rect y="22" width="12" height="18" fill="#5d7050"/><path d="M9 30 Q8 8 20 7 Q32 8 31 30 L27 30 Q28 14 20 13 Q12 14 13 30Z" fill="#54463c"/><ellipse cx="20" cy="21" rx="7.5" ry="9" fill="#c89a82"/><path d="M12 24 Q13 37 20 38 Q27 37 28 24 Q24 30 20 29 Q16 30 12 24Z" fill="#dcd2c8"/><path d="M16 26 Q20 24 24 26 Q20 28 16 26Z" fill="#3a2a24"/></g></svg></div>
<div class="a" style="left:25.3px;top:144.65px;width:8.6px;height:8.6px;border-radius:50%;background:#c4ef3a;border:1px solid #121d2b"></div>
<div class="sname" style="left:43.5px;top:128.55px">John Wilson<span class="srole">Manager</span></div>
<div class="sext" style="left:43.5px;top:141.05px">100</div>
<div class="a" style="left:8px;top:166.0px"><svg width="27" height="27" viewBox="0 0 40 40" style="display:block"><defs><clipPath id="cs4"><circle cx="20" cy="20" r="20"/></clipPath></defs><g clip-path="url(#cs4)"><rect width="40" height="40" fill="#9c7e70"/><path d="M18 6 Q32 4 34 18 Q35 30 30 40 L24 40 Q28 26 26 16Z" fill="#2a1a16"/><ellipse cx="18" cy="22" rx="9" ry="11" fill="#e6c0a8"/><path d="M9 16 Q12 6 22 7 Q18 10 16 14 Q12 14 9 16Z" fill="#2a1a16"/><ellipse cx="17" cy="27" rx="2" ry="1.5" fill="#b03038"/><path d="M10 40 Q14 34 22 35 L24 40Z" fill="#f0ebe6"/></g></svg></div>
<div class="a" style="left:25.3px;top:184.1px;width:8.6px;height:8.6px;border-radius:50%;background:#d5307a;border:1px solid #121d2b"></div>
<svg class="a" style="left:27px;top:185.8px" width="5.2" height="5.2" viewBox="0 0 10 10"><path d="M2 1.5 L3.8 1.2 L4.6 3.4 L3.5 4.3 Q4.4 6 6 6.6 L6.8 5.5 L9 6.3 L8.7 8.2 Q5 8.6 3 6.5 Q1.2 4.4 2 1.5Z" fill="#fff"/></svg>
<div class="sname" style="left:43.5px;top:168.0px">Karey Nguyen<span class="srole">Agent</span></div>
<div class="sext" style="left:43.5px;top:180.5px">106</div>
<div class="a" style="left:8px;top:205.45px"><svg width="27" height="27" viewBox="0 0 40 40" style="display:block"><defs><clipPath id="cs5"><circle cx="20" cy="20" r="20"/></clipPath></defs><g clip-path="url(#cs5)"><rect width="40" height="40" fill="#bcbcbe"/><path d="M3 40 Q6 28 20 29 Q34 28 37 40Z" fill="#1c1c1e"/><ellipse cx="20" cy="21" rx="8" ry="9.5" fill="#cfa88a"/><path d="M10 20 Q8 5 20 5 Q32 5 30 20 Q28 13 20 13 Q12 13 10 20Z" fill="#121214"/><rect x="15" y="20" width="3.5" height="1.2" fill="#2a2020"/><rect x="22" y="20" width="3.5" height="1.2" fill="#2a2020"/></g></svg></div>
<div class="a" style="left:25.3px;top:223.54999999999998px;width:8.6px;height:8.6px;border-radius:50%;background:#d5307a;border:1px solid #121d2b"></div>
<svg class="a" style="left:27px;top:225.25px" width="5.2" height="5.2" viewBox="0 0 10 10"><path d="M2 1.5 L3.8 1.2 L4.6 3.4 L3.5 4.3 Q4.4 6 6 6.6 L6.8 5.5 L9 6.3 L8.7 8.2 Q5 8.6 3 6.5 Q1.2 4.4 2 1.5Z" fill="#fff"/></svg>
<div class="sname" style="left:43.5px;top:207.45px">Peter Rock<span class="srole">Agent</span></div>
<div class="sext" style="left:43.5px;top:219.95px">104</div>
<div class="a" style="left:8px;top:244.89999999999998px"><svg width="27" height="27" viewBox="0 0 40 40" style="display:block"><defs><clipPath id="cs6"><circle cx="20" cy="20" r="20"/></clipPath></defs><g clip-path="url(#cs6)"><rect width="40" height="40" fill="#6e7868"/><rect x="26" width="14" height="40" fill="#4a4e42"/><path d="M6 40 Q8 31 20 31 Q32 31 34 40Z" fill="#8a96a4"/><ellipse cx="20" cy="22" rx="8.5" ry="10" fill="#d8ac94"/><path d="M10 20 Q8 6 20 6 Q32 6 30 20 Q28 12 20 12 Q12 12 10 20Z" fill="#d6d2cc"/><path d="M14 20 H26" stroke="#8a7060" stroke-width="1"/><path d="M15 27 Q20 31 25 27" stroke="#fff" stroke-width="1.5" fill="none"/></g></svg></div>
<div class="a" style="left:25.3px;top:263.0px;width:8.6px;height:8.6px;border-radius:50%;background:#c4ef3a;border:1px solid #121d2b"></div>
<div class="sname" style="left:43.5px;top:246.89999999999998px">Henry Green<span class="srole">Manager</span></div>
<div class="sext" style="left:43.5px;top:259.4px">111</div>
<div class="a" style="left:8px;top:284.35px"><svg width="27" height="27" viewBox="0 0 40 40" style="display:block"><defs><clipPath id="cs7"><circle cx="20" cy="20" r="20"/></clipPath></defs><g clip-path="url(#cs7)"><rect width="40" height="40" fill="#4a403a"/><rect x="26" y="18" width="14" height="22" fill="#ddd6ca"/><path d="M4 40 Q8 30 20 31 Q32 30 36 40Z" fill="#eeeae6"/><ellipse cx="19" cy="21" rx="8.5" ry="10.5" fill="#caa090"/><path d="M9 19 Q8 5 20 5 Q31 6 29 18 Q26 11 19 11 Q13 11 9 19Z" fill="#2e221c"/><path d="M14 19 H24" stroke="#5a3a30" stroke-width="1.2"/></g></svg></div>
<div class="a" style="left:25.3px;top:302.45000000000005px;width:8.6px;height:8.6px;border-radius:50%;background:#c4ef3a;border:1px solid #121d2b"></div>
<div class="sname" style="left:43.5px;top:286.35px">Jordan Young<span class="srole">Agent</span></div>
<div class="a" style="left:212.5px;top:0px;width:3.5px;height:165px;background:#5a6878;border-radius:1px"></div>
</div>
<div class="a" style="left:886.3px;top:467.2px;width:22.4px;height:22.4px;border-radius:50%;border:1.4px solid #364454"></div>
<svg class="a" style="left:893.2px;top:473.3px" width="9" height="11" viewBox="0 0 9 11"><circle cx="1.2" cy="1.2" r=".9" fill="#e8ecef"/><circle cx="4.4" cy="1.2" r=".9" fill="#e8ecef"/><circle cx="7.6000000000000005" cy="1.2" r=".9" fill="#e8ecef"/><circle cx="1.2" cy="3.8" r=".9" fill="#e8ecef"/><circle cx="4.4" cy="3.8" r=".9" fill="#e8ecef"/><circle cx="7.6000000000000005" cy="3.8" r=".9" fill="#e8ecef"/><circle cx="1.2" cy="6.4" r=".9" fill="#e8ecef"/><circle cx="4.4" cy="6.4" r=".9" fill="#e8ecef"/><circle cx="7.6000000000000005" cy="6.4" r=".9" fill="#e8ecef"/><circle cx="4.4" cy="9" r=".9" fill="#e8ecef"/></svg>
<div class="a" style="left:835.9px;top:513.3px;width:123.3px;height:17.8px;border:1px solid #2e3b4a;border-radius:3px"></div>
<div class="a" style="left:842.5px;top:518px;font-weight:bold;font-size:6.75px;color:#c6f03a;line-height:9px">Los Angeles</div>
<div class="a" style="left:885px;top:518px;font-size:7.3px;color:#e0e5ea;line-height:9px;letter-spacing:.1px">+1 213 647 2453</div>
<svg class="a" style="left:947px;top:520px" width="6" height="4" viewBox="0 0 6 4"><path d="M1 1 L3 3 L5 1" stroke="#8793a0" stroke-width=".9" fill="none"/></svg>
<div class="a" style="left:993px;top:515.5px;width:14px;height:13px;border:1px solid #2e3b4a;border-radius:3px"></div>
<svg class="a" style="left:993.5px;top:515.5px" width="13" height="13" viewBox="0 0 13 13"><path d="M10.60 6.50 L9.64 7.80 L9.40 9.40 L7.80 9.64 L6.50 10.60 L5.20 9.64 L3.60 9.40 L3.36 7.80 L2.40 6.50 L3.36 5.20 L3.60 3.60 L5.20 3.36 L6.50 2.40 L7.80 3.36 L9.40 3.60 L9.64 5.20Z" stroke="#aab3bc" stroke-width=".9" fill="none" stroke-linejoin="round"/><circle cx="6.5" cy="6.5" r="1.6" stroke="#aab3bc" stroke-width=".8" fill="none"/></svg>
</body></html>
